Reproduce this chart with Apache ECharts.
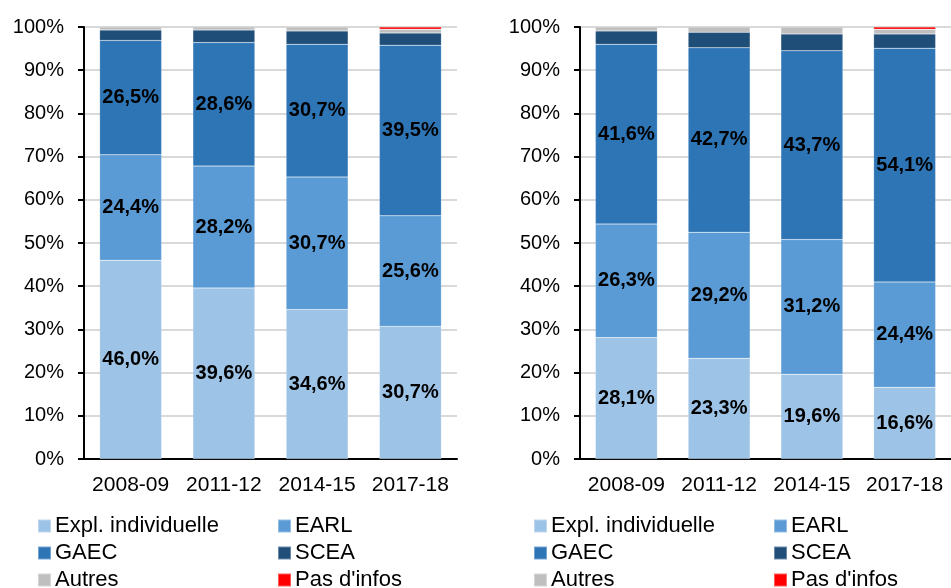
<!DOCTYPE html>
<html>
<head>
<meta charset="UTF-8">
<title>Statuts juridiques</title>
<script src="https://cdn.jsdelivr.net/npm/echarts@6/dist/echarts.min.js"></script>
<style>
  html, body { margin: 0; padding: 0; background: #fff; }
  #main { width: 951px; height: 588px; }
</style>
</head>
<body>
<div id="main"></div>
<script>
// categories
var categories = ['2008-09', '2011-12', '2014-15', '2017-18'];
var seriesNames = ['Expl. individuelle', 'EARL', 'GAEC', 'SCEA', 'Autres', "Pas d'infos"];

// left chart (%)
var explA   = [46.0, 39.6, 34.6, 30.7];
var earlA   = [24.4, 28.2, 30.7, 25.6];
var gaecA   = [26.5, 28.6, 30.7, 39.5];
var sceaA   = [2.4, 2.9, 3.1, 2.8];
var autresA = [0.7, 0.7, 0.9, 0.9];
var pasA    = [null, null, null, 0.5];

// right chart (%)
var explB   = [28.1, 23.3, 19.6, 16.6];
var earlB   = [26.3, 29.2, 31.2, 24.4];
var gaecB   = [41.6, 42.7, 43.7, 54.1];
var sceaB   = [3.1, 3.6, 3.9, 3.3];
var autresB = [0.9, 1.2, 1.6, 1.1];
var pasB    = [null, null, null, 0.5];

var colors = ['#9DC3E6', '#5B9BD5', '#2E75B6', '#1F4E79', '#BFBFBF', '#FF0000'];
var font = 'Liberation Sans, Arial, sans-serif';

var myChart = echarts.init(document.getElementById('main'));

function xAxis(i) {
  return {
    type: 'category',
    gridIndex: i,
    data: categories,
    axisLine: { lineStyle: { color: '#000', width: 2 } },
    axisTick: { length: 6, lineStyle: { color: '#000', width: 2 } },
    axisLabel: { color: '#000', fontSize: 21, fontFamily: font, margin: 16, interval: 0 }
  };
}
function yAxis(i) {
  return {
    type: 'value',
    gridIndex: i,
    min: 0, max: 100, interval: 10,
    axisLine: { show: true, lineStyle: { color: '#000', width: 2 } },
    axisTick: { show: true, length: 6, lineStyle: { color: '#000', width: 2 } },
    splitLine: { lineStyle: { color: '#d9d9d9', width: 2 } },
    axisLabel: { color: '#000', fontSize: 20, fontFamily: font, margin: 20, formatter: '{value}%' }
  };
}

function makeSeries(idx, values, stack, k) {
  return {
    name: seriesNames[k],
    type: 'bar',
    stack: stack,
    xAxisIndex: idx,
    yAxisIndex: idx,
    barWidth: 62,
    data: values,
    itemStyle: { color: colors[k], borderColor: 'rgba(255,255,255,0.35)', borderWidth: 0.5 },
    label: {
      show: k < 3,
      position: 'inside',
      color: '#000',
      fontWeight: 'bold',
      fontSize: 20,
      fontFamily: font,
      formatter: function (p) { return p.value.toFixed(1).replace('.', ',') + '%'; }
    }
  };
}

var leftSets = [explA, earlA, gaecA, sceaA, autresA, pasA];
var rightSets = [explB, earlB, gaecB, sceaB, autresB, pasB];
var series = [];
leftSets.forEach(function (v, k) { series.push(makeSeries(0, v, 'a', k)); });
rightSets.forEach(function (v, k) { series.push(makeSeries(1, v, 'b', k)); });

// one legend per entry, laid out in 2 columns x 3 rows under each chart
var colX = [[37, 277], [533, 773]];
var rowY = [515, 542, 569];
var legends = [];
colX.forEach(function (cols) {
  seriesNames.forEach(function (name, k) {
    legends.push({
      left: cols[k % 2],
      top: rowY[Math.floor(k / 2)],
      itemWidth: 13,
      itemHeight: 13,
      icon: 'rect',
      selectedMode: false,
      padding: 0,
      data: [name],
      textStyle: { color: '#000', fontSize: 22, fontFamily: font, padding: [0, 0, 0, -1] }
    });
  });
});

var option = {
  animation: false,
  color: colors,
  grid: [
    { left: 84, top: 27, width: 373, bottom: 129 },
    { left: 580, top: 27, width: 373, bottom: 129 }
  ],
  xAxis: [xAxis(0), xAxis(1)],
  yAxis: [yAxis(0), yAxis(1)],
  legend: legends,
  series: series
};
myChart.setOption(option);
</script>
</body>
</html>
